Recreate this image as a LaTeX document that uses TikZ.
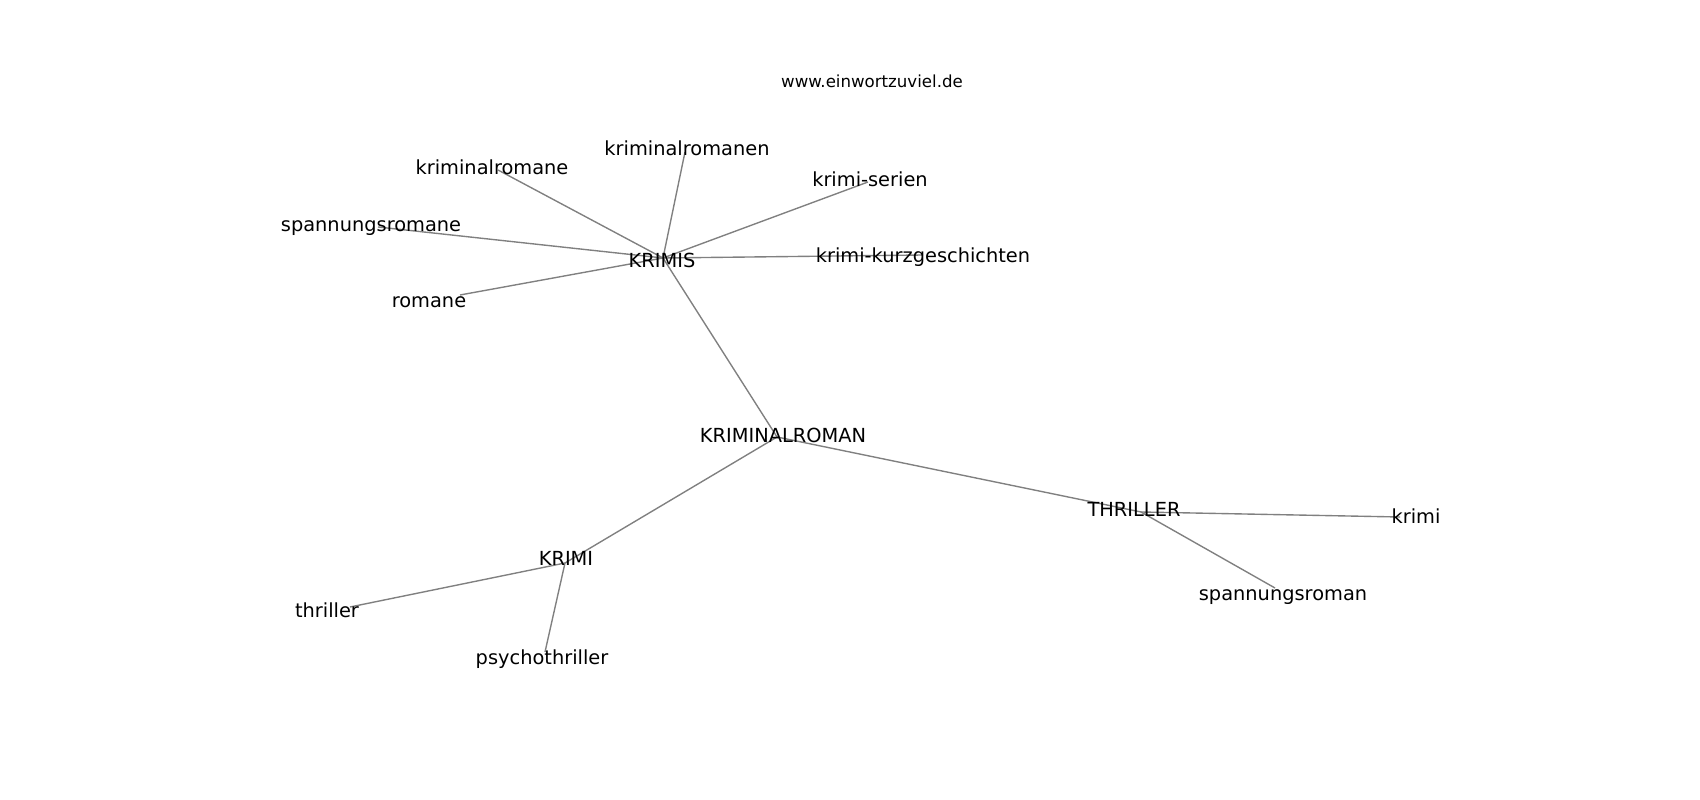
\documentclass[tikz,border=0pt]{standalone}
\usepackage{fontspec}
\setmainfont{DejaVu Sans}
\usetikzlibrary{positioning}

\begin{document}
\begin{tikzpicture}[x=0.01in,y=-0.01in,every edge/.style={draw=gray,line width=1pt},
  word/.style={anchor=base,inner sep=0pt,font=\fontsize{14}{16}\selectfont}]
\useasboundingbox (0,0) rectangle (1700,800);
% points of the graph
\coordinate (kriminalroman) at (777,437);
\coordinate (krimis) at (663,258);
\coordinate (thrillerhub) at (1141,512);
\coordinate (krimihub) at (565,563);
\coordinate (kriminalromane) at (498,170);
\coordinate (spannungsromane) at (378,227);
\coordinate (romane) at (460,295);
\coordinate (kriminalromanen) at (685,152);
\coordinate (serien) at (868,182);
\coordinate (kurz) at (923,255);
\coordinate (krimi) at (1400,517);
\coordinate (spannungsroman) at (1275,588);
\coordinate (thriller) at (350,607);
\coordinate (psycho) at (545,652);
\path (kriminalroman) edge (krimis)
(kriminalroman) edge (thrillerhub)
(kriminalroman) edge (krimihub)
(krimis) edge (kriminalromane)
(krimis) edge (spannungsromane)
(krimis) edge (romane)
(krimis) edge (kriminalromanen)
(krimis) edge (serien)
(krimis) edge (kurz)
(thrillerhub) edge (krimi)
(thrillerhub) edge (spannungsroman)
(krimihub) edge (thriller)
(krimihub) edge (psycho);
% labels
\node[anchor=base,font=\fontsize{12}{14}\selectfont] (site) at (872,88) {www.einwortzuviel.de};
\node[word] (kriminalroman-txt) at (783,442) {KRIMINALROMAN};
\node[word] (krimis-txt) at (662,268) {KRIMIS};
\node[word] (thrillerhub-txt) at (1134,516) {THRILLER};
\node[word] (krimihub-txt) at (566,565) {KRIMI};
\node[word] (kriminalromane-txt) at (492,175) {kriminalromane};
\node[word] (spannungsromane-txt) at (371,232) {spannungsromane};
\node[word] (romane-txt) at (429,308) {romane};
\node[word] (kriminalromanen-txt) at (687,156) {kriminalromanen};
\node[word] (serien-txt) at (870,187) {krimi-serien};
\node[word] (kurz-txt) at (923,263) {krimi-kurzgeschichten};
\node[word] (krimi-txt) at (1416,523) {krimi};
\node[word] (spannungsroman-txt) at (1283,600) {spannungsroman};
\node[word] (thriller-txt) at (327,617) {thriller};
\node[word] (psycho-txt) at (542,664) {psychothriller};
\end{tikzpicture}
\end{document}
